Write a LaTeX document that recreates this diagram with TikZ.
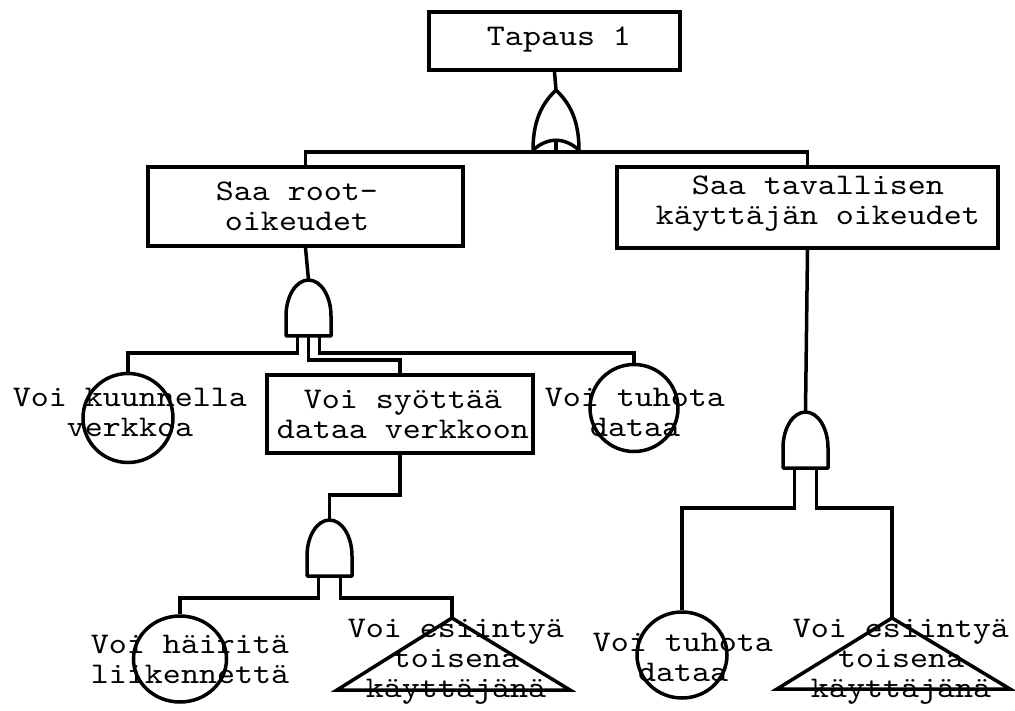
\documentclass[tikz,border=0pt]{standalone}
\usepackage{fontspec}
\setmonofont{lmmono10-regular}[Extension=.otf, FakeStretch=1.143]
\usetikzlibrary{shapes.geometric}

\tikzset{
  wire/.style={line width=3.5pt},
  gate/.style={line width=3.5pt, line join=round},
  box/.style={draw, line width=3.5pt, inner sep=0pt},
  ev/.style={draw, ellipse, line width=3.5pt, inner sep=0pt},
  lbl/.style={font=\ttfamily\fontsize{30}{30}\selectfont, align=center, inner sep=0pt},
  % AND gate: origin at the middle of its flat base
  andgate/.pic={
    \draw[gate] (-22.5,0) -- (-22.5,-20)
      .. controls (-22.5,-39.9) and (-12.4,-56) .. (0,-56)
      .. controls (12.4,-56) and (22.5,-39.9) .. (22.5,-20)
      -- (22.5,0) -- cycle;
    \coordinate (-top) at (0,-56);
    \coordinate (-l) at (-11,0);
    \coordinate (-m) at (0,0);
    \coordinate (-r) at (11,0);
  },
  % OR gate: origin at the middle between its two lower tips
  orgate/.pic={
    \draw[gate] (-23,0)
      .. controls (-23,-35) and (-10,-50) .. (0,-60)
      .. controls (10,-50) and (23,-35) .. (23,0)
      .. controls (8,-13) and (-8,-13) .. cycle;
    \coordinate (-top) at (0,-60);
    \coordinate (-in) at (0,-10);
  }
}

\begin{document}
\begin{tikzpicture}[x=1pt, y=-1pt]
\useasboundingbox (0,0) rectangle (1015,711);

% top event
\node[box, minimum width=251, minimum height=58] (top) at (554.5,41) {};
\node[lbl] (topt) at (559,40) {Tapaus 1};
\pic (g0) at (556,150) {orgate};

% intermediate events
\node[box, minimum width=315, minimum height=79] (root) at (305.5,206.5) {};
\node[lbl] (roott) at (297,206) {Saa root-\\oikeudet};
\node[box, minimum width=381, minimum height=81] (user) at (807.5,207.5) {};
\node[lbl] (usert) at (818,204) {Saa tavallisen\\käyttäjän oikeudet};

\pic (g1) at (308.5,336) {andgate};
\pic (g3) at (805.5,468) {andgate};

\node[ev, minimum width=90, minimum height=89] (listen) at (128,418) {};
\node[lbl] (listent) at (130,412) {Voi kuunnella\\verkkoa};
\node[box, minimum width=266, minimum height=78] (inject) at (400,414) {};
\node[lbl] (injectt) at (403,414) {Voi syöttää\\dataa verkkoon};
\node[ev, minimum width=88, minimum height=87] (destroy) at (634,408) {};
\node[lbl] (destroyt) at (635,412) {Voi tuhota\\dataa};

\pic (g2) at (329.5,576) {andgate};

% basic and undeveloped events at the bottom
\node[ev, minimum width=93, minimum height=86] (jam) at (180,659) {};
\node[lbl] (jamt) at (190,659) {Voi häiritä\\liikennettä};
\coordinate (spoofA) at (452,618);
\draw[wire] (spoofA) -- (337,690) -- (570,690) -- cycle;
\node[lbl] (spoofAt) at (456,662) {Voi esiintyä\\toisena\\käyttäjänä};

\node[ev, minimum width=90, minimum height=86] (destroy2) at (682,655) {};
\node[lbl] (destroy2t) at (683,657) {Voi tuhota\\dataa};
\coordinate (spoofB) at (892,618);
\draw[wire] (spoofB) -- (777,689) -- (1010,689) -- cycle;
\node[lbl] (spoofBt) at (901,662) {Voi esiintyä\\toisena\\käyttäjänä};

% connectors
\draw[wire] (top.south) -- (g0-top);
\draw[wire] (g0-in) -- ++(0,12) -| (root.north);
\draw[wire] (g0-in) -- ++(0,12) -| (user.north);

\draw[wire] (root.south) -- (g1-top);
\draw[wire] (g1-l) -- ++(0,17) -| (listen.north);
\draw[wire] (g1-m) -- ++(0,24) -| (inject.north);
\draw[wire] (g1-r) -- ++(0,17) -| (destroy.north);

\draw[wire] (inject.south) -- ++(0,40) -| (g2-top);
\draw[wire] (g2-l) -- ++(0,22) -| (jam.north);
\draw[wire] (g2-r) -- ++(0,22) -| (spoofA);

\draw[wire] (user.south) -- (g3-top);
\draw[wire] (g3-l) -- ++(0,40) -| (destroy2.north);
\draw[wire] (g3-r) -- ++(0,40) -| (spoofB);
\end{tikzpicture}
\end{document}
